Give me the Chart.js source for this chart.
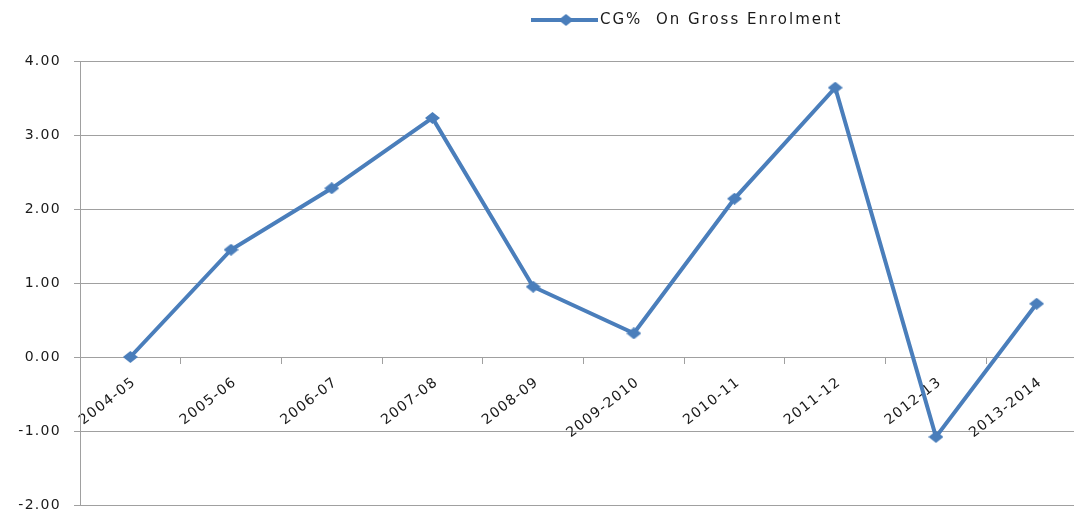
<!DOCTYPE html>
<html><head><meta charset="utf-8">
<script src="https://cdn.jsdelivr.net/npm/chart.js@4.4.1/dist/chart.umd.min.js"></script>
<style>html,body{margin:0;padding:0;overflow:hidden;background:#fff}#wrap{width:1094px;height:511px}</style>
</head><body><div id="wrap"><canvas id="c" width="1094" height="511"></canvas></div>
<script>
const categories = ['2004-05','2005-06','2006-07','2007-08','2008-09','2009-2010','2010-11','2011-12','2012-13','2013-2014'];
const cgValues = [0.00, 1.45, 2.28, 3.23, 0.95, 0.32, 2.14, 3.64, -1.08, 0.72];
const seriesLabel = 'CG%  On Gross Enrolment';
const yTicks = [-2, -1, 0, 1, 2, 3, 4];

const LINE = '#4A7EBB';
const GRID = '#a0a0a0';
const TEXT = '#1a1a1a';
function diamond(w, h) {
  const c = document.createElement('canvas'); c.width = w; c.height = h;
  const g = c.getContext('2d'); g.fillStyle = LINE; g.beginPath();
  g.moveTo(w/2, 0); g.lineTo(w, h/2); g.lineTo(w/2, h); g.lineTo(0, h/2); g.closePath(); g.fill();
  return c;
}
const marker = diamond(15, 12);

const spacingPlugin = { id: 'spacing', beforeDraw(chart) { chart.ctx.letterSpacing = '1.3px'; } };
const legendPlugin = { id: 'customLegend', afterDraw(chart) {
  const ctx = chart.ctx; const ds = chart.data.datasets[0];
  ctx.save();
  const y = 20;
  ctx.strokeStyle = LINE; ctx.lineWidth = 4;
  ctx.beginPath(); ctx.moveTo(531, y); ctx.lineTo(598, y); ctx.stroke();
  ctx.drawImage(marker, 566 - 7.5, y - 6);
  ctx.letterSpacing = '2px';
  ctx.font = '15px "DejaVu Sans"'; ctx.fillStyle = TEXT;
  ctx.textBaseline = 'middle'; ctx.textAlign = 'left';
  ctx.fillText(ds.label, 600, y);
  ctx.restore();
}};

new Chart(document.getElementById('c'), {
  type: 'line',
  data: { labels: categories, datasets: [{
    label: seriesLabel, data: cgValues, borderColor: LINE, backgroundColor: LINE,
    borderWidth: 4, pointStyle: marker, pointRadius: 6, pointHoverRadius: 6,
    fill: false, tension: 0
  }]},
  options: {
    responsive: false, animation: false, devicePixelRatio: 1,
    layout: { autoPadding: false, padding: { top: 61, bottom: 6, left: 0, right: 7 } },
    plugins: { legend: { display: false }, tooltip: { enabled: false } },
    scales: {
      x: {
        type: 'category', position: { y: 0 }, offset: true,
        grid: { offset: true, drawOnChartArea: false, drawTicks: true, tickLength: 6, color: GRID },
        border: { display: true, color: GRID, width: 1 },
        ticks: { minRotation: 38, maxRotation: 38, autoSkip: false, padding: 11, labelOffset: 4, color: TEXT,
                 font: { family: '"DejaVu Sans"', size: 14 } },
        afterFit(s) { s.paddingLeft = 0; s.paddingRight = 0; s.paddingTop = 0; s.paddingBottom = 0; }
      },
      y: {
        min: -2, max: 4,
        afterBuildTicks(s) { s.ticks = yTicks.map(v => ({ value: v })); },
        grid: { color: GRID, tickLength: 6 },
        border: { color: GRID },
        ticks: { padding: 13, color: TEXT, font: { family: '"DejaVu Sans"', size: 14 },
                 callback: v => Number(v).toFixed(2) },
        afterFit(s) { s.width = 80; s.paddingTop = 0; s.paddingBottom = 0; }
      }
    }
  },
  plugins: [spacingPlugin, legendPlugin]
});
</script>
</body></html>
